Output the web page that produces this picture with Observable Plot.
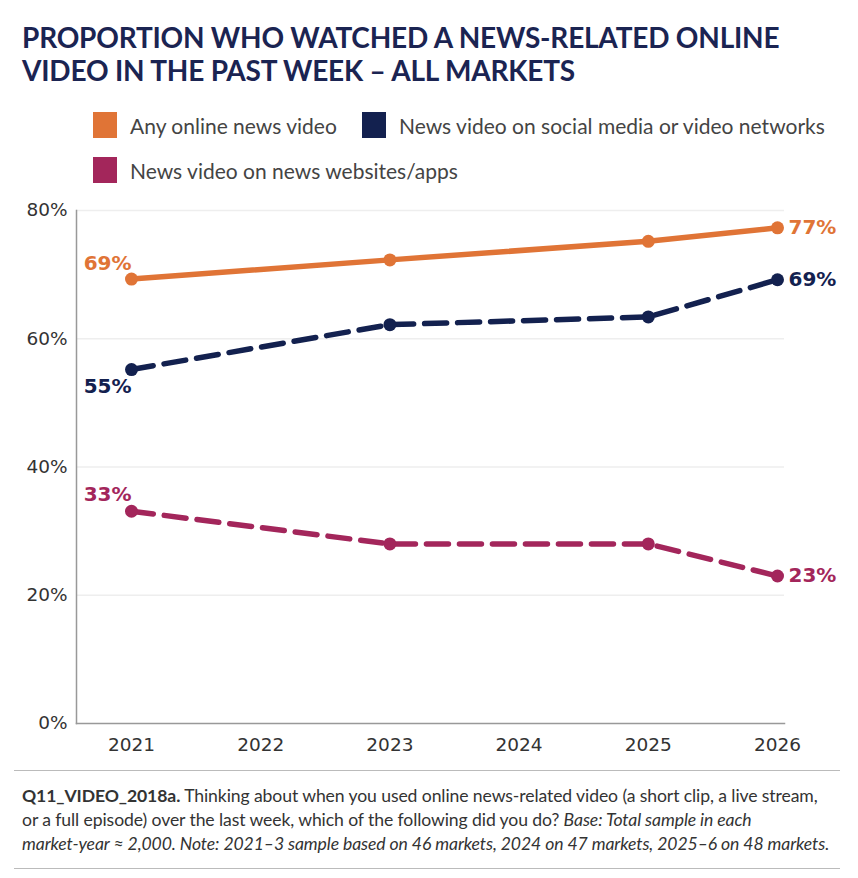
<!DOCTYPE html>
<html>
<head>
<meta charset="utf-8">
<script src="https://cdn.jsdelivr.net/npm/d3@7"></script>
<script src="https://cdn.jsdelivr.net/npm/@observablehq/plot@0.6"></script>
<style>
  html, body { margin: 0; padding: 0; background: #fff; }
  body { width: 858px; height: 878px; position: relative; font-family: Lato, "Noto Sans", sans-serif; overflow: hidden; }
  #title { position: absolute; left: 22px; top: 21px; font-weight: 700; font-size: 28px; line-height: 33px; color: #1b2452; letter-spacing: -0.2px; }
  .leg { position: absolute; display: flex; align-items: center; font-size: 21px; color: #444; }
  .sw { width: 24px; height: 26px; margin-right: 13px; }
  #chart { position: absolute; left: 0; top: 195px; }
  #cap { position: absolute; left: 14px; top: 770px; width: 826px; border-top: 1.5px solid #bbb; border-bottom: 1.5px solid #bbb; padding: 13px 0 16px 8px; box-sizing: border-box; height: 99px; font-size: 17.6px; line-height: 24px; color: #333; letter-spacing: -0.1px; }
</style>
</head>
<body>
<div id="title"></div>
<div id="legend"></div>
<div id="chart"></div>
<div id="cap"><b>Q11_VIDEO_2018a.</b> Thinking about when you used online news-related video (a short clip, a live stream,<br>or a full episode) over the last week, which of the following did you do? <i>Base: Total sample in each<br>market-year ≈ 2,000. Note: 2021–3 sample based on 46 markets, 2024 on 47 markets, 2025–6 on 48 markets.</i></div>
<script>
const titleLines = ["PROPORTION WHO WATCHED A NEWS-RELATED ONLINE", "VIDEO IN THE PAST WEEK – ALL MARKETS"];
const seriesNames = ["Any online news video", "News video on social media or video networks", "News video on news websites/apps"];
const seriesColors = ["#e07436", "#13214f", "#a3265b"];
const years = [2021, 2023, 2025, 2026];
const anyVideo = [69.3, 72.3, 75.2, 77.3];
const socialVideo = [55.2, 62.2, 63.4, 69.2];
const websiteVideo = [33.1, 28.0, 28.0, 23.0];
const yTicks = [0, 20, 40, 60, 80];
const xTicks = [2021, 2022, 2023, 2024, 2025, 2026];

document.getElementById("title").innerHTML = titleLines.join("<br>");

const legPos = [[93, 112], [362, 112], [93, 157]];
const legend = document.getElementById("legend");
seriesNames.forEach((n, i) => {
  const d = document.createElement("div");
  d.className = "leg";
  d.style.left = legPos[i][0] + "px";
  d.style.top = legPos[i][1] + "px";
  d.innerHTML = `<span class="sw" style="background:${seriesColors[i]}"></span><span>${n}</span>`;
  legend.appendChild(d);
});

const seriesValues = [anyVideo, socialVideo, websiteVideo];
const data = seriesValues.flatMap((vals, si) => vals.map((v, j) => ({series: seriesNames[si], year: years[j], value: v})));
const dashes = [null, "22,11", "22,11"];
const labelDy = [[-16, 0], [17, 0], [-17, 0]];

const marks = [
  Plot.ruleY(yTicks.filter(t => t > 0), {stroke: "#eeeeee", strokeWidth: 1.5}),
  Plot.frame({anchor: "left", stroke: "#999", strokeWidth: 1.5}),
  Plot.frame({anchor: "bottom", stroke: "#999", strokeWidth: 1.5}),
];
seriesNames.forEach((name, si) => {
  const d = data.filter(r => r.series === name);
  marks.push(Plot.line(d, {x: "year", y: "value", stroke: seriesColors[si], strokeWidth: 5.5, strokeDasharray: dashes[si] || undefined, strokeLinecap: "round"}));
  marks.push(Plot.dot(d, {x: "year", y: "value", fill: seriesColors[si], r: 6.5}));
  const first = d[0], last = d[d.length - 1];
  marks.push(Plot.text([first], {x: "year", y: "value", text: r => Math.round(r.value) + "%", fill: seriesColors[si], textAnchor: "end", dy: labelDy[si][0], fontSize: 20, fontWeight: 700, fontFamily: "DejaVu Sans"}));
  marks.push(Plot.text([last], {x: "year", y: "value", text: r => Math.round(r.value) + "%", fill: seriesColors[si], textAnchor: "start", dx: 11, dy: labelDy[si][1], fontSize: 20, fontWeight: 700, fontFamily: "DejaVu Sans"}));
});

const chart = Plot.plot({
  width: 858,
  height: 565,
  marginLeft: 76,
  marginRight: 74,
  marginTop: 15,
  marginBottom: 37,
  style: {fontFamily: "DejaVu Sans", fontSize: "18.5px", color: "#333", background: "transparent"},
  x: {domain: [2021, 2026], insetLeft: 55, insetRight: 7, ticks: xTicks, tickFormat: d => String(d), tickSize: 0, tickPadding: 14, label: null},
  y: {domain: [0, 80], ticks: yTicks, tickFormat: d => d + "%", tickSize: 0, tickPadding: 9, label: null},
  marks
});
document.getElementById("chart").appendChild(chart);
</script>
</body>
</html>
